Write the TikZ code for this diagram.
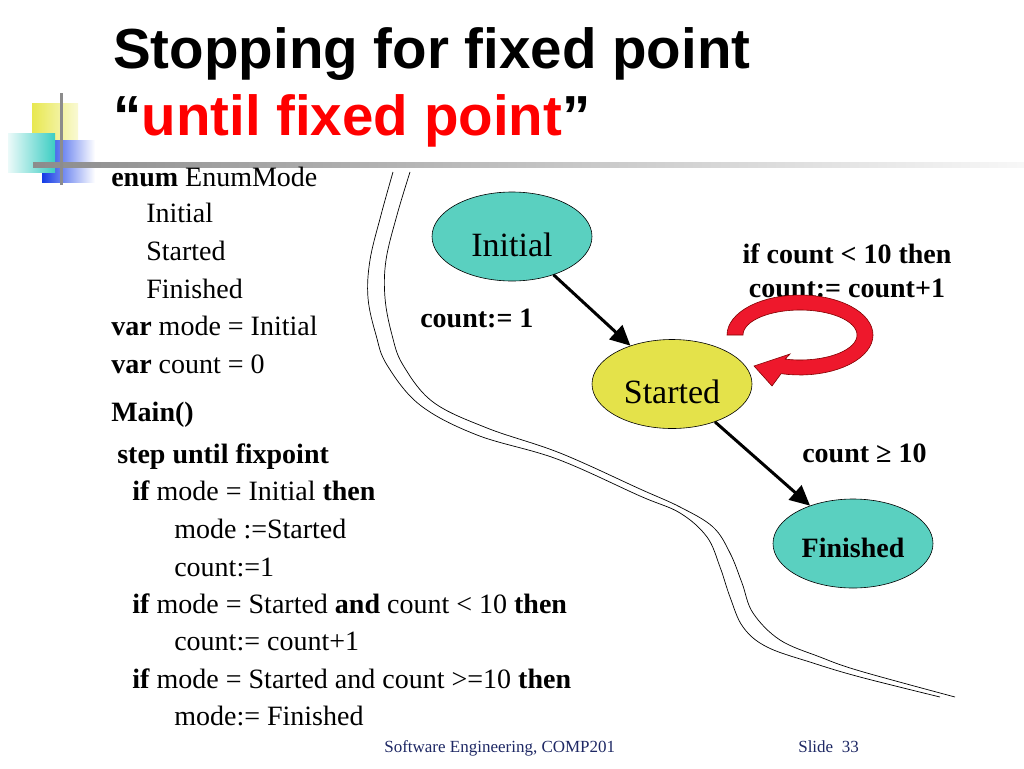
\documentclass[tikz,border=0pt]{standalone}
\usepackage{fontspec}
\setmainfont{Liberation Serif}
\newfontfamily\titlefont{Liberation Sans}
\usepackage{tikz}
\usetikzlibrary{shapes,arrows.meta,positioning}
\usepackage{xcolor}

\definecolor{stateteal}{RGB}{90,208,192}
\definecolor{stateyellow}{RGB}{228,226,74}
\definecolor{loopred}{RGB}{238,24,44}
\definecolor{footblue}{RGB}{30,40,100}
\definecolor{decoyellow}{RGB}{232,232,80}
\definecolor{decoteal}{RGB}{60,205,195}
\definecolor{decoblue}{RGB}{20,60,230}

\begin{document}
\begin{tikzpicture}[x=1pt,y=-1pt,line width=0.6pt,
  state/.style={ellipse, draw, line width=0.6pt, minimum width=160pt, minimum height=89pt, inner sep=0pt, text depth=0pt},
  code/.style={anchor=base west, inner sep=0pt, font=\fontsize{28}{34}\selectfont},
  lbl/.style={anchor=base west, inner sep=0pt, font=\bfseries\fontsize{28}{34}\selectfont},
  trans/.style={-{Triangle[length=20pt,width=19pt]}, line width=3pt},
  wall/.style={line width=0.7pt, smooth, tension=0.6}]
\useasboundingbox (0,0) rectangle (1024,768);

% corner decoration
\shade[left color=decoyellow, right color=decoyellow!25] (32,103) rectangle (78,150);
\shade[left color=decoblue, middle color=decoblue, right color=white] (42,140) rectangle (95,182);
\shade[left color=decoteal!10, right color=decoteal] (8,133) rectangle (55,172);
\shade[left color=black!45, right color=black!3] (33,162) rectangle (1024,167);
\fill[black!45] (60,93) rectangle (63,185);

% title
\node [anchor=base west, inner sep=0pt, font=\titlefont\bfseries\fontsize{56.5}{60}\selectfont] (title) at (113,68) {Stopping for fixed point};
\node [anchor=base west, inner sep=0pt, font=\titlefont\bfseries\fontsize{56.5}{60}\selectfont] (subtitle) at (113,135) {“\textcolor{red}{until fixed point}”};

% program text
\node [code] (c1) at (111,186) {\textbf{enum} EnumMode};
\node [code] (c2) at (146,222) {Initial};
\node [code] (c3) at (146,260) {Started};
\node [code] (c4) at (146,298) {Finished};
\node [code] (c5) at (111,335) {\textbf{var} mode = Initial};
\node [code] (c6) at (111,373) {\textbf{var} count = 0};
\node [code] (c7) at (111,421) {\textbf{Main()}};
\node [code] (c8) at (117,463) {\textbf{step until fixpoint}};
\node [code] (c9) at (132,500) {\textbf{if} mode = Initial \textbf{then}};
\node [code] (c10) at (174,538) {mode :=Started};
\node [code] (c11) at (174,576) {count:=1};
\node [code] (c12) at (132,613) {\textbf{if} mode = Started \textbf{and} count < 10 \textbf{then}};
\node [code] (c13) at (174,650) {count:= count+1};
\node [code] (c14) at (132,688) {\textbf{if} mode = Started and count >=10 \textbf{then}};
\node [code] (c15) at (174,725) {mode:= Finished};

% dividing wall
\draw [wall] plot coordinates {(393,172) (381,215) (370,260) (368,298) (376,335) (387,365) (420,405) (477,435) (557,459) (640,496) (680,513) (707,537) (720,567) (730,597) (743,627) (767,647) (813,663) (860,677) (940,697)};
\draw [wall] plot coordinates {(410,172) (397,215) (386,260) (385,298) (392,335) (403,365) (433,402) (487,428) (560,453) (640,489) (680,507) (713,527) (730,553) (742,583) (753,613) (780,640) (820,657) (860,671) (955,697)};

% states
\node [state, fill=stateteal, text height=39pt, font=\fontsize{34}{40}\selectfont] (init) at (512,236.5) {Initial};
\node [state, fill=stateyellow, text height=38pt, font=\fontsize{34}{40}\selectfont] (started) at (672,384) {Started};
\node [state, fill=stateteal, text height=27pt, font=\bfseries\fontsize{28}{34}\selectfont] (finished) at (853,543.5) {Finished};

\path (init) edge [trans] (started);
\path (started) edge [trans] (finished);

% labels
\node [lbl] (l1) at (420,327) {count:= 1};
\node [lbl, anchor=base] (l2) at (847,263) {if count < 10 then};
\node [lbl, anchor=base] (l3) at (847,297) {count:= count+1};
\node [lbl] (l4) at (802,462) {count ≥ 10};

% self loop
\filldraw [fill=loopred, draw=red!50!black, line width=0.6pt]
  plot [domain=180:-105, samples=50] ({800+73*cos(\x)},{335-40*sin(\x)})
  -- (772,386) -- (754,366) -- (790,354)
  -- plot [domain=-105:180, samples=50] ({800+57*cos(\x)},{335-25*sin(\x)}) -- cycle;

% footer
\node [anchor=base west, inner sep=0pt, text=footblue, font=\fontsize{17}{20}\selectfont] (foot) at (384,752) {Software Engineering, COMP201};
\node [anchor=base west, inner sep=0pt, text=footblue, font=\fontsize{17}{20}\selectfont] (slide) at (798,752) {Slide\ \ 33};
\end{tikzpicture}
\end{document}
